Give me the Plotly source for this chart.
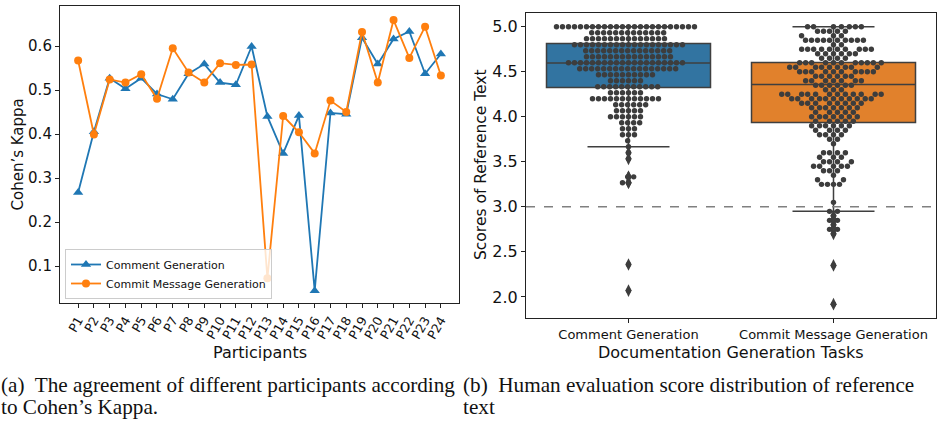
import math
import plotly.graph_objects as go

# ---------------- data: (a) Cohen's Kappa per participant ----------------
participants = [f"P{i}" for i in range(1, 25)]
kappa_comment = [0.267, 0.405, 0.527, 0.503, 0.527, 0.491, 0.479, 0.537, 0.559, 0.517, 0.512, 0.599,
                 0.440, 0.356, 0.442, 0.044, 0.448, 0.445, 0.619, 0.559, 0.616, 0.633, 0.537, 0.582]
kappa_commit = [0.567, 0.399, 0.524, 0.517, 0.536, 0.480, 0.595, 0.540, 0.517, 0.561, 0.557, 0.558,
                0.072, 0.441, 0.404, 0.356, 0.476, 0.450, 0.632, 0.517, 0.659, 0.573, 0.644, 0.533]

# ---------------- data: (b) reference text scores ----------------
tasks = ["Comment Generation", "Commit Message Generation"]
comment_levels = [5.0, 4.933, 4.867, 4.8, 4.733, 4.667, 4.6, 4.533, 4.467, 4.4, 4.333, 4.267, 4.2,
                  4.133, 4.067, 4.0, 3.933, 3.867, 3.8, 3.733, 3.667, 3.6, 3.533, 3.333, 3.267, 2.36, 2.07]
comment_counts = [24, 13, 14, 19, 15, 15, 20, 17, 10, 6, 11, 6, 12,
                  6, 5, 6, 4, 3, 3, 1, 1, 1, 1, 2, 2, 1, 1]
commit_levels = [5.0, 4.95, 4.9, 4.85, 4.8, 4.75, 4.7, 4.65, 4.6, 4.55, 4.5, 4.45, 4.4, 4.35, 4.3,
                 4.25, 4.2, 4.15, 4.1, 4.05, 4.0, 3.95, 3.9, 3.85, 3.8, 3.75, 3.7, 3.6, 3.55, 3.5,
                 3.45, 3.4, 3.35, 3.3, 3.25, 3.05, 2.95, 2.9, 2.85, 2.8, 2.75, 2.7, 2.35, 1.92]
commit_counts = [7, 5, 3, 10, 2, 10, 6, 4, 11, 9, 10, 6, 7, 6, 3,
                 12, 11, 8, 7, 5, 7, 5, 6, 4, 4, 2, 1, 4, 3, 4,
                 5, 3, 1, 2, 4, 1, 2, 1, 2, 1, 2, 1, 1, 1]
# box statistics
box_q1 = [4.325, 3.935]
box_median = [4.596, 4.358]
box_q3 = [4.814, 4.603]
box_low = [3.667, 2.95]
box_high = [5.0, 5.0]

W, H = 937, 423
BLUE, ORANGE = "#1f77b4", "#ff7f0e"
BOX_FILL = ["#3274a1", "#e1812c"]
DARK = "#3f3f3f"
FONT = "DejaVu Sans"

# layout geometry (px)
L1 = (60, 459, 6, 303)      # left axes: x0, x1, ytop, ybottom
L2 = (526, 936, 13, 318)
y1_range = [0.016, 0.691]
y2_range = [1.766, 5.152]
x2_range = [-0.5, 1.5]


def dom_x(a):
    return [a[0] / W, a[1] / W]


def dom_y(a):
    return [1 - a[3] / H, 1 - a[2] / H]


fig = go.Figure()

# ---- left: line chart ----
fig.add_trace(go.Scatter(x=participants, y=kappa_comment, mode="lines+markers", name="Comment Generation",
                         line=dict(color=BLUE, width=1.8),
                         marker=dict(symbol="triangle-up", size=9, color=BLUE),
                         xaxis="x", yaxis="y"))
fig.add_trace(go.Scatter(x=participants, y=kappa_commit, mode="lines+markers", name="Commit Message Generation",
                         line=dict(color=ORANGE, width=1.8),
                         marker=dict(symbol="circle", size=8, color=ORANGE),
                         xaxis="x", yaxis="y"))

# ---- right: box + swarm ----
px_per_x = (L2[1] - L2[0]) / (x2_range[1] - x2_range[0])
px_per_y = (L2[3] - L2[2]) / (y2_range[1] - y2_range[0])


def expand(levels, counts):
    out = []
    for v, c in zip(levels, counts):
        out += [v] * c
    return out


def beeswarm(vals, d):
    order = sorted(vals)
    placed = []
    for v in order:
        y = v * px_per_y
        nb = [(px, py) for px, py in placed if abs(py - y) < d]
        cands = [0.0]
        for px, py in nb:
            dx = math.sqrt(max(d * d - (py - y) ** 2, 0))
            cands += [px - dx, px + dx]
        cands.sort(key=abs)
        chosen = 0.0
        for c in cands:
            if all((c - px) ** 2 + (y - py) ** 2 >= d * d - 1e-6 for px, py in nb):
                chosen = c
                break
        placed.append((chosen, y))
    return [p[0] / px_per_x for p in placed], order


groups = [expand(comment_levels, comment_counts), expand(commit_levels, commit_counts)]

for i, vals in enumerate(groups):
    fig.add_trace(go.Box(x=[i], q1=[box_q1[i]], median=[box_median[i]], q3=[box_q3[i]],
                         lowerfence=[box_low[i]], upperfence=[box_high[i]],
                         width=0.8, whiskerwidth=0.5, fillcolor=BOX_FILL[i],
                         line=dict(color=DARK, width=1.5), boxpoints=False,
                         showlegend=False, hoverinfo="skip", xaxis="x2", yaxis="y2"))
    outl = [v for v in vals if v < box_low[i] or v > box_high[i]]
    fig.add_trace(go.Scatter(x=[i] * len(outl), y=outl, mode="markers",
                             marker=dict(symbol="diamond-tall", size=9, color=DARK),
                             showlegend=False, xaxis="x2", yaxis="y2"))
    offs, ys = beeswarm(vals, 6.0)
    fig.add_trace(go.Scatter(x=[i + o for o in offs], y=ys, mode="markers",
                             marker=dict(size=5.4, color="#3d3d3d", line=dict(width=0)),
                             showlegend=False, xaxis="x2", yaxis="y2"))

axis_common = dict(showline=True, mirror=True, linecolor="#222", linewidth=1.1, automargin=False,
                   ticks="outside", ticklen=4, tickcolor="#222", showgrid=False, zeroline=False)

fig.update_layout(
    width=W, height=H, margin=dict(l=0, r=0, t=0, b=0, autoexpand=False),
    paper_bgcolor="white", plot_bgcolor="white",
    font=dict(family=FONT, color="#111"),
    xaxis=dict(domain=dom_x(L1), anchor="y", type="category", range=[-1.15, 24.15],
               tickmode="array", tickvals=participants, ticktext=participants,
               tickangle=-60, tickfont=dict(size=12.5), **axis_common),
    yaxis=dict(domain=dom_y(L1), anchor="x", range=y1_range, tickvals=[0.1, 0.2, 0.3, 0.4, 0.5, 0.6],
               ticktext=["0.1", "0.2", "0.3", "0.4", "0.5", "0.6"], tickfont=dict(size=15), **axis_common),
    xaxis2=dict(domain=dom_x(L2), anchor="y2", range=x2_range, tickvals=[0, 1], ticktext=tasks,
                tickfont=dict(size=13), **axis_common),
    yaxis2=dict(domain=dom_y(L2), anchor="x2", range=y2_range,
                tickvals=[2.0, 2.5, 3.0, 3.5, 4.0, 4.5, 5.0],
                ticktext=["2.0", "2.5", "3.0", "3.5", "4.0", "4.5", "5.0"], tickfont=dict(size=16), **axis_common),
    legend=dict(x=65 / W, y=1 - 299 / H, xanchor="left", yanchor="bottom",
                bgcolor="rgba(255,255,255,0.8)", bordercolor="#cccccc", borderwidth=1,
                font=dict(size=11, family=FONT), tracegroupgap=0, itemwidth=30),
    showlegend=True,
)

fig.add_shape(type="line", xref="x2 domain", yref="y2", x0=0, x1=1, y0=3.0, y1=3.0,
              line=dict(color="#808080", width=1.5, dash="dash"))

ann = [
    dict(text="Cohen’s Kappa", x=17 / W, y=1 - 154.5 / H, textangle=-90, font=dict(size=15)),
    dict(text="Participants", x=259.5 / W, y=1 - 352 / H, font=dict(size=16)),
    dict(text="Scores of Reference Text", x=481 / W, y=1 - 165 / H, textangle=-90, font=dict(size=15.5)),
    dict(text="Documentation Generation Tasks", x=731 / W, y=1 - 352 / H, font=dict(size=16)),
]
for a in ann:
    fig.add_annotation(xref="paper", yref="paper", showarrow=False, xanchor="center", yanchor="middle", **a)

cap_font = dict(family="Liberation Serif", size=21.2, color="#111")
captions = [
    ("(a)  The agreement of different participants according", 0, 385),
    ("to Cohen’s Kappa.", 0, 407),
    ("(b)  Human evaluation score distribution of reference", 462, 385),
    ("text", 462, 407),
]
for t, x, y in captions:
    fig.add_annotation(xref="paper", yref="paper", x=x / W, y=1 - y / H, text=t, showarrow=False,
                       xanchor="left", yanchor="middle", font=cap_font, borderpad=0)

fig.write_html("out.html", config={"displayModeBar": False})

# remove the browser's default page margin so the figure sits at (0, 0)
with open("out.html", "r", encoding="utf-8") as f:
    html = f.read()
html = html.replace("<head>", "<head><style>html,body{margin:0;padding:0;overflow:hidden;}</style>", 1)
with open("out.html", "w", encoding="utf-8") as f:
    f.write(html)
